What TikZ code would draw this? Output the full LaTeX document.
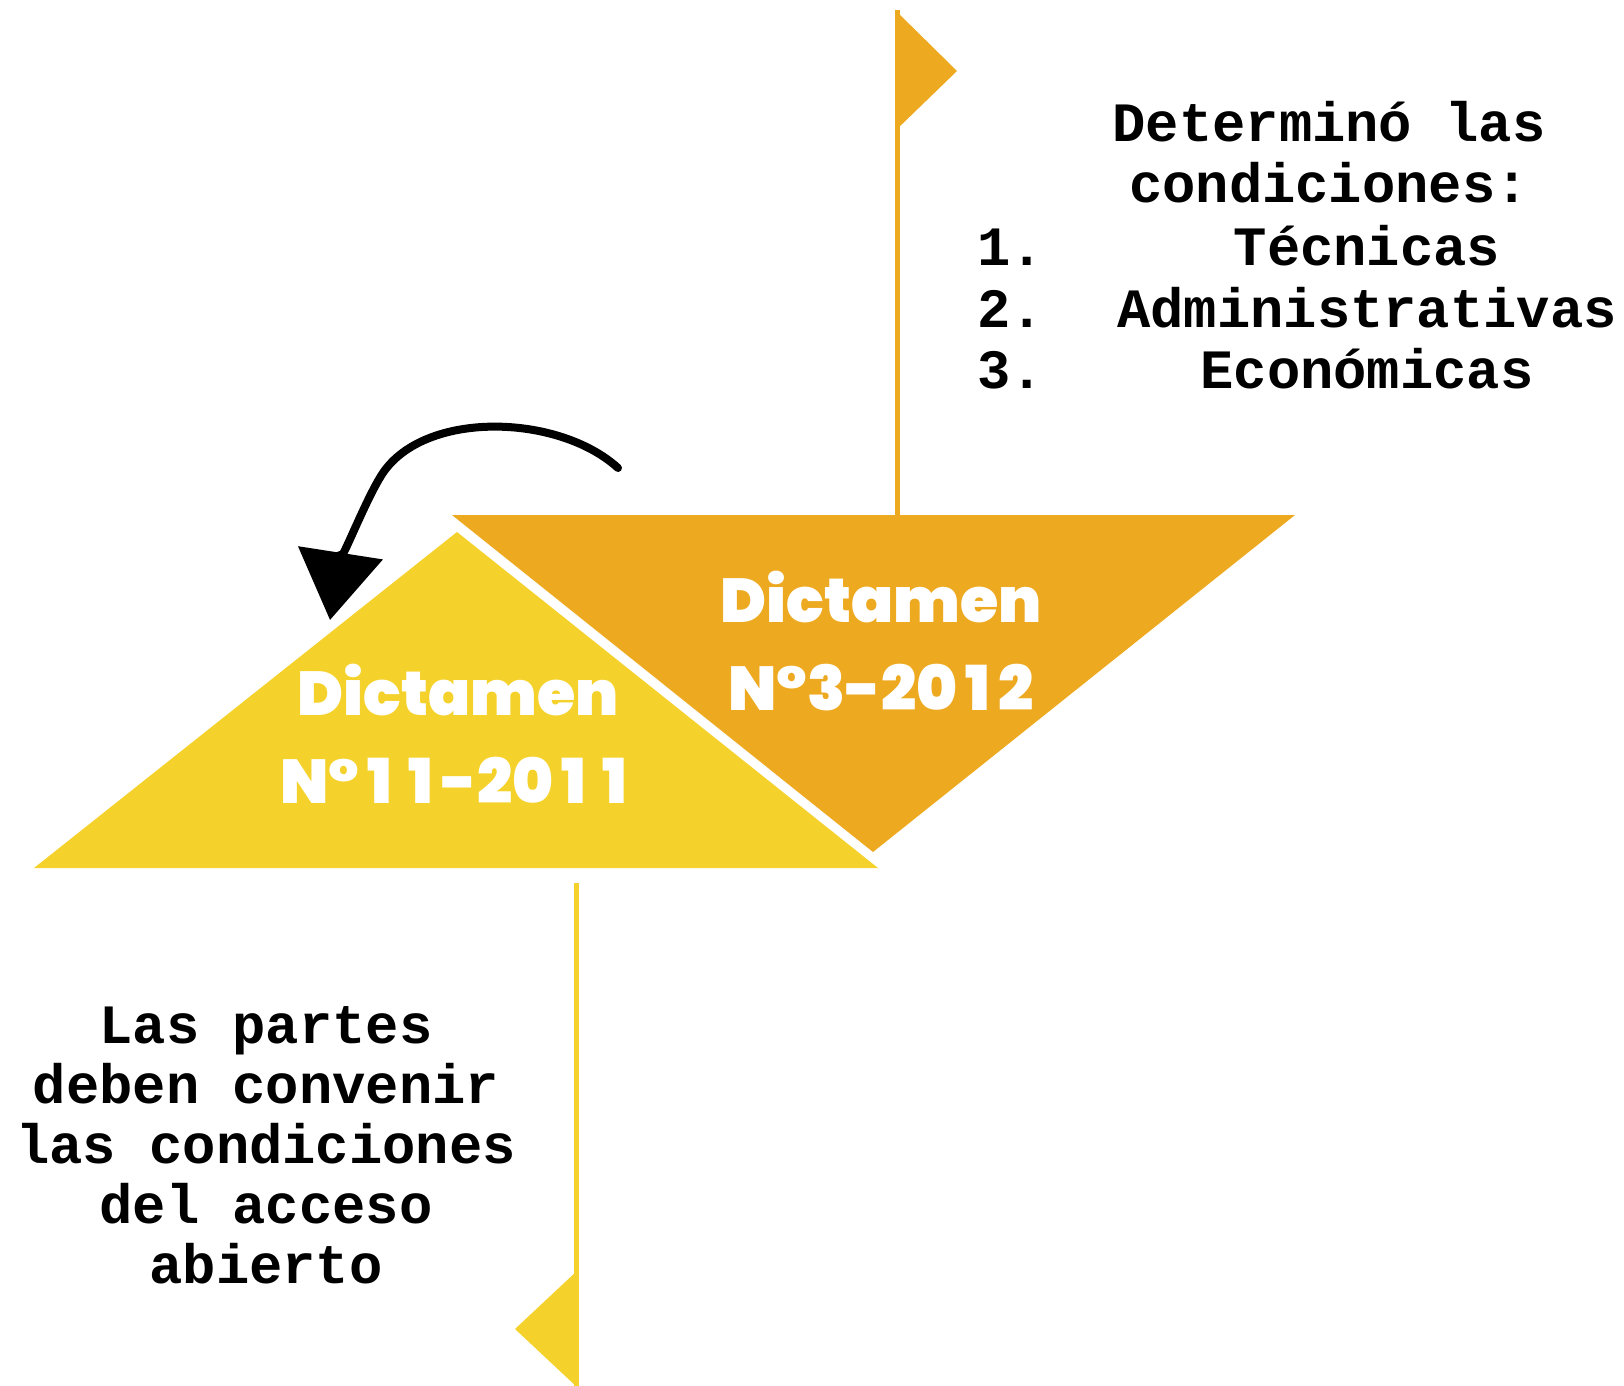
\documentclass[tikz,border=0pt]{standalone}
\usepackage{fontspec}
\setmonofont{Liberation Mono}
\newfontfamily\dictfont{Poppins Black}
\newcommand\uno{\hbox to \fontcharwd\font`0{\hss 1\hss}}
\usetikzlibrary{arrows.meta}
\definecolor{naranja}{HTML}{EDA920}
\definecolor{amarillo}{HTML}{F5D22B}

\begin{document}
\begin{tikzpicture}[x=0.5pt,y=-0.5pt,
  dict/.style={text=white,font=\dictfont\fontsize{31}{36}\selectfont,anchor=base,inner sep=0pt},
  txt/.style={font=\ttfamily\bfseries\fontsize{27.75}{30}\selectfont,anchor=base,inner sep=0pt},
  pole/.style={line width=2.5pt}]

  \useasboundingbox (0,0) rectangle (1624,1386);

  % triangulos
  \fill[naranja]  (452,515) -- (1295,515) -- (873,852) -- cycle;
  \fill[amarillo] (34,868) -- (878,868) -- (457,532) -- cycle;

  % banderas
  \draw[pole,naranja] (897,10) -- (897,515);
  \fill[naranja] (895,10) -- (957,71) -- (895,131) -- cycle;
  \draw[pole,amarillo] (576,883) -- (576,1386);
  \fill[amarillo] (578,1270) -- (515,1329) -- (578,1388) -- cycle;

  \node[dict] (d3a)  at (881,622) {Dictamen};
  \node[dict] (d3b)  at (881,710) {N°3-20\uno2};
  \node[dict] (d11a) at (458,715) {Dictamen};
  \node[dict] (d11b) at (458,803) {N°\uno\uno-20\uno\uno};

  \node[txt] (det)  at (1329,142) {Determinó las};
  \node[txt] (cond) at (1329,203) {condiciones:};
  \foreach \n/\cond/\y in {1/Técnicas/265, 2/Administrativas/327, 3/Económicas/388} {
    \node[txt,anchor=base west] (num\n) at (977,\y) {\n.};
    \node[txt] (cond\n) at (1367,\y) {\cond};
  }

  \foreach \linea/\y [count=\i] in {Las partes/1043, deben convenir/1103,
      las condiciones/1163, del acceso/1223, abierto/1283}
    \node[txt] (partes\i) at (266,\y) {\linea};

  \coordinate (desde) at (618,468);
  \coordinate (hacia) at (330,620);
  \draw[line width=4pt,line cap=round,-{Triangle[length=34pt,width=42pt]}]
    (desde) .. controls (560,415) and (430,410) .. (385,470)
            .. controls (367,494) and (337,575) .. (hacia);
\end{tikzpicture}
\end{document}
